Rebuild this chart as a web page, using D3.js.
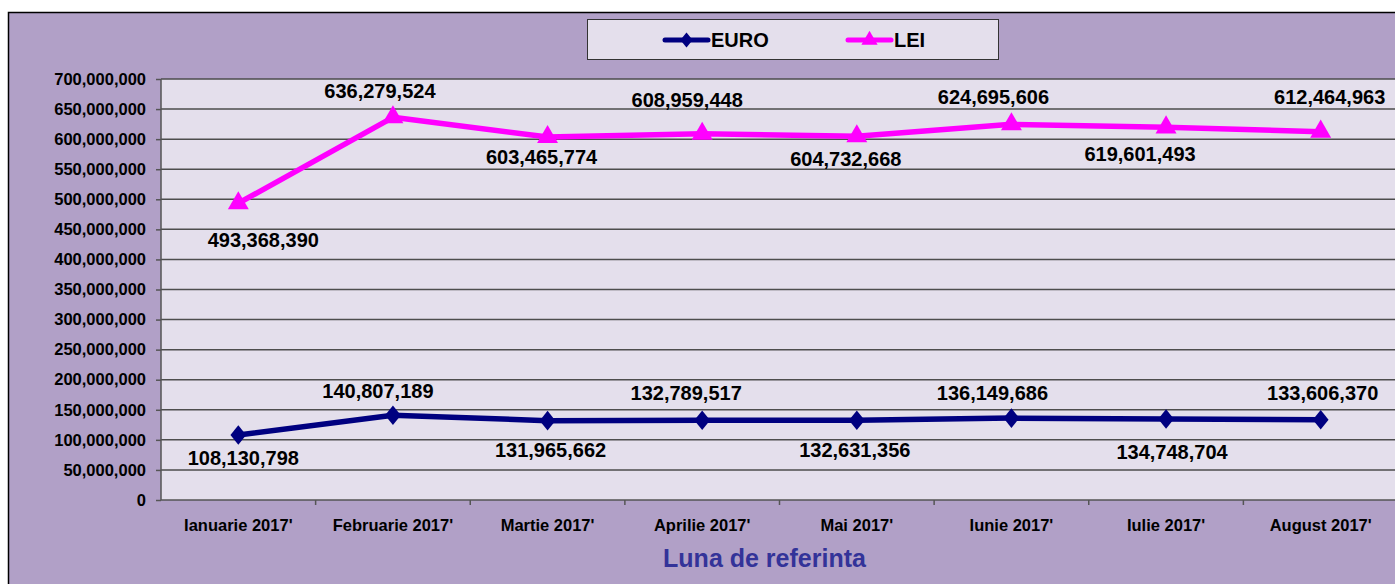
<!DOCTYPE html>
<html>
<head>
<meta charset="utf-8">
<script src="https://cdn.jsdelivr.net/npm/d3@7/dist/d3.min.js"></script>
<style>
  body { margin: 0; background: #ffffff; }
  svg { display: block; font-family: Arial, "Liberation Sans", sans-serif; }
  .axis text { font-weight: bold; font-size: 16.5px; fill: #000; }
  .axis path, .axis line { stroke: #555; stroke-width: 1.5px; }
</style>
</head>
<body>
<div id="chart"></div>
<script>
// chart data
var months = ["Ianuarie 2017'", "Februarie 2017'", "Martie 2017'", "Aprilie 2017'",
              "Mai 2017'", "Iunie 2017'", "Iulie 2017'", "August 2017'"];
var euro = [108130798, 140807189, 131965662, 132789517, 132631356, 136149686, 134748704, 133606370];
var lei = [493368390, 636279524, 603465774, 608959448, 604732668, 624695606, 619601493, 612464963];
var yTicks = [0, 50000000, 100000000, 150000000, 200000000, 250000000, 300000000, 350000000,
              400000000, 450000000, 500000000, 550000000, 600000000, 650000000, 700000000];
var xTitle = "Luna de referinta";

// label placement (pixel offsets from the point, as in the original)
var leiLabelPos = [[25, 37], [-13, -27], [-6, 20], [-15, -34], [-11, 23], [-18, -27], [-26, 26], [9, -35]];
var euroLabelPos = [[5, 23], [-15, -25], [3, 29], [-16, -27], [-2, 30], [-19, -25], [6, 33], [2, -27]];

var W = 1395, H = 584;
var plot = {left: 161, top: 79, right: 1398, bottom: 500};

var svg = d3.select("#chart").append("svg")
    .attr("width", W)
    .attr("height", H);

// outer chart area
svg.append("rect")
    .attr("x", 8.5).attr("y", 12.5)
    .attr("width", W + 20).attr("height", H + 20)
    .attr("fill", "#b1a0c7")
    .attr("stroke", "#000").attr("stroke-width", 1.5);

// plot area
svg.append("rect")
    .attr("x", plot.left).attr("y", plot.top)
    .attr("width", plot.right - plot.left).attr("height", plot.bottom - plot.top)
    .attr("fill", "#e4dfec");

var x = d3.scaleBand()
    .domain(months)
    .range([plot.left, plot.right]);

var y = d3.scaleLinear()
    .domain([0, 700000000])
    .range([plot.bottom, plot.top]);

var fmt = d3.format(",");

// grid
svg.append("g")
    .selectAll("line")
    .data(yTicks.slice(1))
    .enter().append("line")
    .attr("x1", plot.left).attr("x2", plot.right)
    .attr("y1", function(d) { return y(d); })
    .attr("y2", function(d) { return y(d); })
    .attr("stroke", "#4d4d4d")
    .attr("stroke-width", 1.5);

// y axis
svg.append("g")
    .attr("class", "axis axis--y")
    .attr("transform", "translate(" + plot.left + ",0)")
    .call(d3.axisLeft(y).tickValues(yTicks).tickFormat(fmt).tickSize(5).tickPadding(10))
    .call(function(g) { g.select(".domain").attr("d", "M0," + plot.top + "V" + plot.bottom); });

// x axis - ticks between categories
var xAxis = svg.append("g")
    .attr("class", "axis axis--x")
    .attr("transform", "translate(0," + plot.bottom + ")")
    .call(d3.axisBottom(x).tickSize(0).tickPadding(19));
xAxis.select(".domain").attr("d", "M" + plot.left + ",0H" + plot.right);
xAxis.selectAll(".sep")
    .data(months.slice(1))
    .enter().append("line")
    .attr("class", "sep")
    .attr("x1", function(d) { return x(d); })
    .attr("x2", function(d) { return x(d); })
    .attr("y1", 0).attr("y2", 5);

// axis title
svg.append("text")
    .attr("x", (plot.left + plot.right) / 2 - 15)
    .attr("y", 567)
    .attr("text-anchor", "middle")
    .attr("font-size", "25px")
    .attr("font-weight", "bold")
    .attr("fill", "#333399")
    .text(xTitle);

var cx = function(i) { return x(months[i]) + x.bandwidth() / 2; };

var line = d3.line()
    .x(function(d, i) { return cx(i); })
    .y(function(d) { return y(d); });

var series = [
    {name: "EURO", values: euro, color: "#000080", symbol: d3.symbolDiamond, size: 110, stretch: "scale(1.4,1)", labels: euroLabelPos},
    {name: "LEI", values: lei, color: "#ff00ff", symbol: d3.symbolTriangle, size: 190, stretch: "", labels: leiLabelPos}
];

series.forEach(function(s) {
    var g = svg.append("g");
    g.append("path")
        .datum(s.values)
        .attr("d", line)
        .attr("fill", "none")
        .attr("stroke", s.color)
        .attr("stroke-width", 5.5)
        .attr("stroke-linejoin", "round");

    g.selectAll(".mark")
        .data(s.values)
        .enter().append("path")
        .attr("class", "mark")
        .attr("transform", function(d, i) {
            return "translate(" + cx(i) + "," + y(d) + ")" + s.stretch;
        })
        .attr("d", d3.symbol().type(s.symbol).size(s.size))
        .attr("fill", s.color);

    g.selectAll(".lbl")
        .data(s.values)
        .enter().append("text")
        .attr("class", "lbl")
        .attr("x", function(d, i) { return cx(i) + s.labels[i][0]; })
        .attr("y", function(d, i) { return y(d) + s.labels[i][1]; })
        .attr("dy", "0.36em")
        .attr("text-anchor", "middle")
        .attr("font-size", "20px")
        .attr("font-weight", "bold")
        .attr("fill", "#000")
        .text(function(d) { return fmt(d); });
});

// legend
var legend = svg.append("g");
legend.append("rect")
    .attr("x", 587.5).attr("y", 19.5)
    .attr("width", 411).attr("height", 40)
    .attr("fill", "#e4dfec")
    .attr("stroke", "#333").attr("stroke-width", 1);

var legendItems = [
    {s: series[0], x1: 665, x2: 708, tx: 711},
    {s: series[1], x1: 848, x2: 891, tx: 894}
];
legendItems.forEach(function(it) {
    legend.append("line")
        .attr("x1", it.x1).attr("x2", it.x2)
        .attr("y1", 40).attr("y2", 40)
        .attr("stroke", it.s.color)
        .attr("stroke-width", 5)
        .attr("stroke-linecap", "round");
    legend.append("path")
        .attr("transform", "translate(" + ((it.x1 + it.x2) / 2) + ",40)" + it.s.stretch)
        .attr("d", d3.symbol().type(it.s.symbol).size(it.s.size * 0.6))
        .attr("fill", it.s.color);
    legend.append("text")
        .attr("x", it.tx).attr("y", 47)
        .attr("font-size", "20px")
        .attr("font-weight", "bold")
        .text(it.s.name);
});
</script>
</body>
</html>
